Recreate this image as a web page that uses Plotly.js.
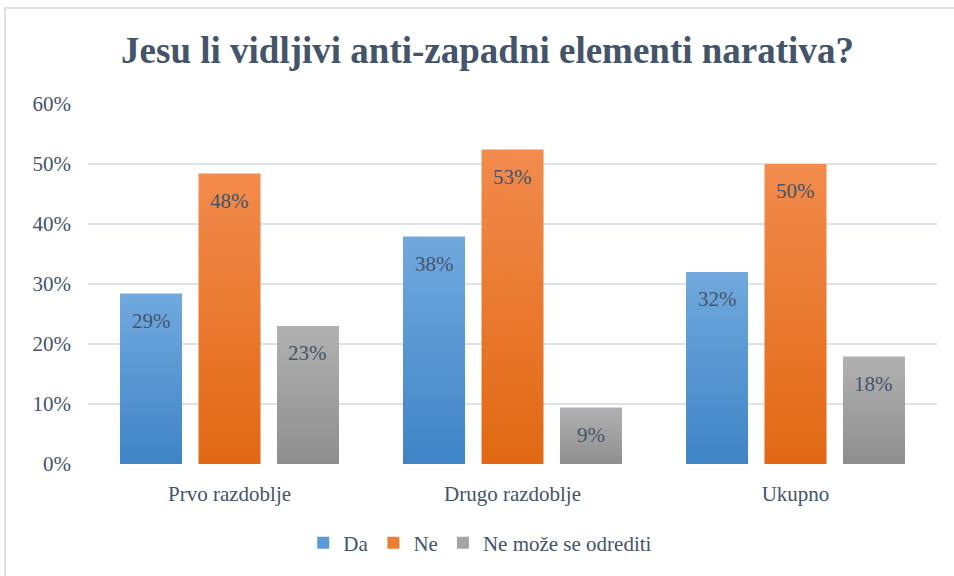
<!DOCTYPE html>
<html>
<head>
<meta charset="utf-8">
<script src="https://cdn.plot.ly/plotly-3.0.1.min.js"></script>
<style>
  html, body { margin: 0; padding: 0; background: #ffffff; }
  #wrap { position: relative; width: 954px; height: 576px; overflow: hidden; }
  #chart { position: absolute; left: 0; top: 0; width: 954px; height: 576px; }
  #frame { position: absolute; left: 4px; top: 7px; width: 960px; height: 600px;
           border-top: 2px solid #dde2ea; border-left: 2px solid #dde2ea; pointer-events: none; }
</style>
</head>
<body>
<div id="wrap">
  <div id="chart"></div>
  <div id="frame"></div>
</div>
<script>
// ---- data ----
const categories = ['Prvo razdoblje', 'Drugo razdoblje', 'Ukupno'];
const seriesNames = ['Da', 'Ne', 'Ne može se odrediti'];
const daValues = [28.4, 37.9, 32.0];
const neValues = [48.4, 52.4, 50.0];
const neMozeValues = [23.0, 9.4, 17.9];
const daLabels = ['29%', '38%', '32%'];
const neLabels = ['48%', '53%', '50%'];
const neMozeLabels = ['23%', '9%', '18%'];
const yTickVals = [0, 10, 20, 30, 40, 50, 60];
const yTickText = ['0%', '10%', '20%', '30%', '40%', '50%', '60%'];

// ---- styles ----
const solidColors = ['#5b9bd5', '#ed7d31', '#a5a5a5'];
const gradStops = [
  ['#71a9de', '#3f84c6'],
  ['#f28b4d', '#e16813'],
  ['#b1b1b1', '#8e8e8e']
];
const textColor = '#44546a';
const fontFamily = 'Liberation Serif';

const plotWidthPx = 954 - 88 - 17;
const barGap = 0.168;
const barGroupGap = 0.21;
const slotPx = plotWidthPx / categories.length * (1 - barGap) / seriesNames.length;

const values = [daValues, neValues, neMozeValues];
const labels = [daLabels, neLabels, neMozeLabels];

const traces = seriesNames.map((name, i) => ({
  type: 'bar',
  name: name,
  x: categories,
  y: values[i],
  marker: { color: solidColors[i], line: { width: 0 } },
  hoverinfo: 'skip'
}));

const annotations = [];
seriesNames.forEach((name, i) => {
  categories.forEach((c, j) => {
    annotations.push({
      xref: 'x', yref: 'y',
      x: c, y: values[i][j],
      xshift: (i - 1) * slotPx,
      yshift: -27,
      yanchor: 'middle', xanchor: 'center',
      text: labels[i][j],
      showarrow: false,
      font: { family: fontFamily, size: 21, color: textColor }
    });
  });
});

const layout = {
  width: 954,
  height: 576,
  margin: { l: 88, r: 17, t: 104, b: 109 },
  paper_bgcolor: '#ffffff',
  plot_bgcolor: '#ffffff',
  font: { family: fontFamily, color: textColor, size: 20 },
  title: {
    text: '<b>Jesu li vidljivi anti-zapadni elementi narativa?</b>',
    font: { family: fontFamily, size: 37, color: textColor },
    x: 0.511, xanchor: 'center',
    y: 1 - 50 / 576, yref: 'container', yanchor: 'middle'
  },
  barmode: 'group',
  bargap: barGap,
  bargroupgap: barGroupGap,
  annotations: annotations,
  xaxis: {
    type: 'category',
    showgrid: false,
    zeroline: false,
    showline: false,
    ticks: '',
    ticklabelstandoff: 15,
    tickfont: { family: fontFamily, size: 21, color: textColor }
  },
  yaxis: {
    range: [0, 60],
    tickvals: yTickVals,
    ticktext: yTickText,
    showgrid: true,
    gridcolor: '#dde2ea',
    gridwidth: 2,
    zeroline: false,
    showline: false,
    ticks: '',
    ticklabelstandoff: 16,
    tickfont: { family: fontFamily, size: 21, color: textColor }
  },
  showlegend: true,
  legend: {
    orientation: 'h',
    x: 0.462, xanchor: 'center',
    y: -0.22, yanchor: 'middle',
    font: { family: fontFamily, size: 21, color: textColor },
    itemwidth: 30,
    traceorder: 'normal'
  }
};

Plotly.newPlot('chart', traces, layout, { displayModeBar: false, staticPlot: true }).then(gd => {
  // vertical gradients on bars, like the original Office chart
  const svg = gd.querySelector('svg.main-svg');
  const ns = 'http://www.w3.org/2000/svg';
  let defs = svg.querySelector('defs');
  if (!defs) { defs = document.createElementNS(ns, 'defs'); svg.insertBefore(defs, svg.firstChild); }
  gradStops.forEach((stops, i) => {
    const lg = document.createElementNS(ns, 'linearGradient');
    lg.setAttribute('id', 'barGrad' + i);
    lg.setAttribute('x1', '0'); lg.setAttribute('y1', '0');
    lg.setAttribute('x2', '0'); lg.setAttribute('y2', '1');
    const s1 = document.createElementNS(ns, 'stop');
    s1.setAttribute('offset', '0'); s1.setAttribute('stop-color', stops[0]);
    const s2 = document.createElementNS(ns, 'stop');
    s2.setAttribute('offset', '1'); s2.setAttribute('stop-color', stops[1]);
    lg.appendChild(s1); lg.appendChild(s2);
    defs.appendChild(lg);
  });
  gd.querySelectorAll('.barlayer .trace.bars').forEach((t, i) => {
    t.querySelectorAll('.point path').forEach(p => { p.style.fill = 'url(#barGrad' + i + ')'; });
  });
});
</script>
</body>
</html>
